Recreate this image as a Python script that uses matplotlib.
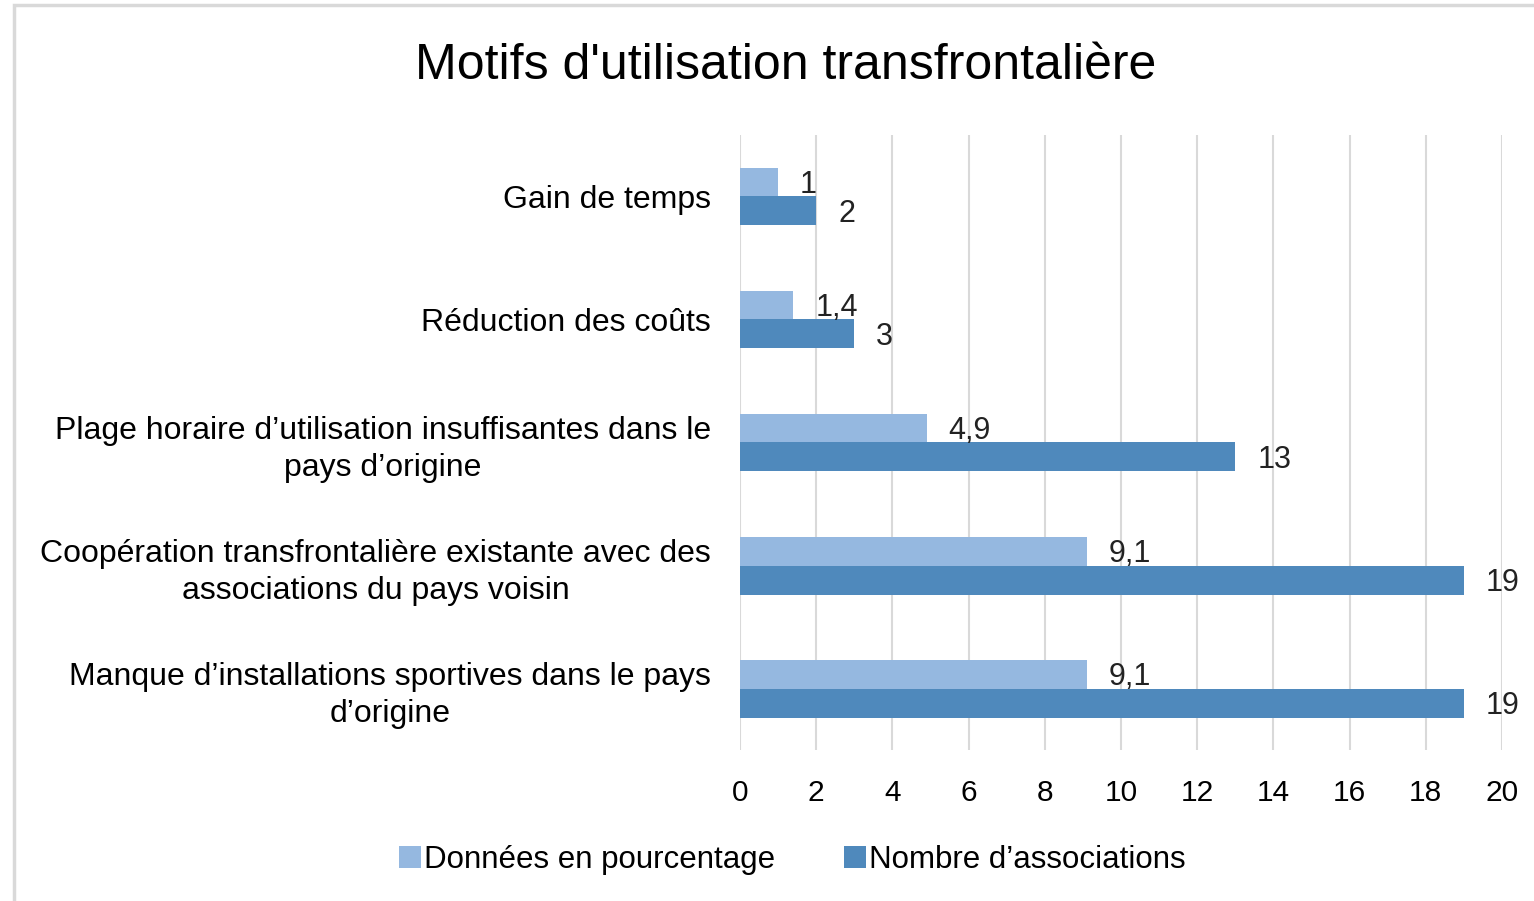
import numpy as np
import matplotlib.pyplot as plt
from matplotlib.patches import Rectangle

plt.rcParams['font.family'] = ['Liberation Sans', 'DejaVu Sans']

# catégories, de bas en haut
categories = [
    "Manque d\u2019installations sportives dans le pays\nd\u2019origine",
    "Coop\u00e9ration transfrontali\u00e8re existante avec des\nassociations du pays voisin",
    "Plage horaire d\u2019utilisation insuffisantes dans le\npays d\u2019origine",
    "R\u00e9duction des co\u00fbts",
    "Gain de temps",
]
pourcentage = [9.1, 9.1, 4.9, 1.4, 1]
associations = [19, 19, 13, 3, 2]
lbl_pourcentage = ["9,1", "9,1", "4,9", "1,4", "1"]
lbl_associations = ["19", "19", "13", "3", "2"]

c_light = "#95B8E0"
c_dark = "#4F89BC"
grid_c = "#D9D9D9"
fs = 21.5

fig = plt.figure(figsize=(15.34, 9.01), dpi=100)
# cadre gris du graphique
fig.patches.append(Rectangle((14/1534, -0.1), 1.2, 1 - 5/901 + 0.1, transform=fig.transFigure,
                             fill=False, edgecolor=grid_c, linewidth=2.5))

ax = fig.add_axes([740/1534, 1 - 750/901, 762/1534, 615/901])
y = np.arange(len(categories))
h = 29/123
ax.barh(y + h/2, pourcentage, height=h, color=c_light, label="Donn\u00e9es en pourcentage", zorder=3)
ax.barh(y - h/2, associations, height=h, color=c_dark, label="Nombre d\u2019associations", zorder=3)

for i in range(len(categories)):
    ax.annotate(lbl_pourcentage[i], (pourcentage[i], y[i] + h/2), xytext=(22, -3),
                textcoords="offset pixels", va="center", ha="left", fontsize=22, color="#222222")
    ax.annotate(lbl_associations[i], (associations[i], y[i] - h/2), xytext=(22, -3),
                textcoords="offset pixels", va="center", ha="left", fontsize=22, color="#222222")

ax.set_xlim(0, 20)
ax.set_ylim(-0.5, 4.5)
ax.set_xticks(np.arange(0, 21, 2))
ax.set_yticks(y)
ax.set_yticklabels(categories, fontsize=23, multialignment="center", linespacing=1.3)
ax.tick_params(axis="x", labelsize=fs, length=0, pad=21)
ax.tick_params(axis="y", length=0, pad=21)
ax.grid(axis="x", color=grid_c, linewidth=1.5, zorder=0)
for s in ax.spines.values():
    s.set_visible(False)

fig.text(786/1534, 1 - 66/901, "Motifs d'utilisation transfrontali\u00e8re", fontsize=36,
         ha="center", va="center")

fig.legend(loc="center", bbox_to_anchor=(792/1534, 1 - 860/901), ncol=2, frameon=False,
           fontsize=22.5, handlelength=0.7, handleheight=0.7, handletextpad=0.1, columnspacing=2.2)

fig.savefig("out.png", dpi=100)
